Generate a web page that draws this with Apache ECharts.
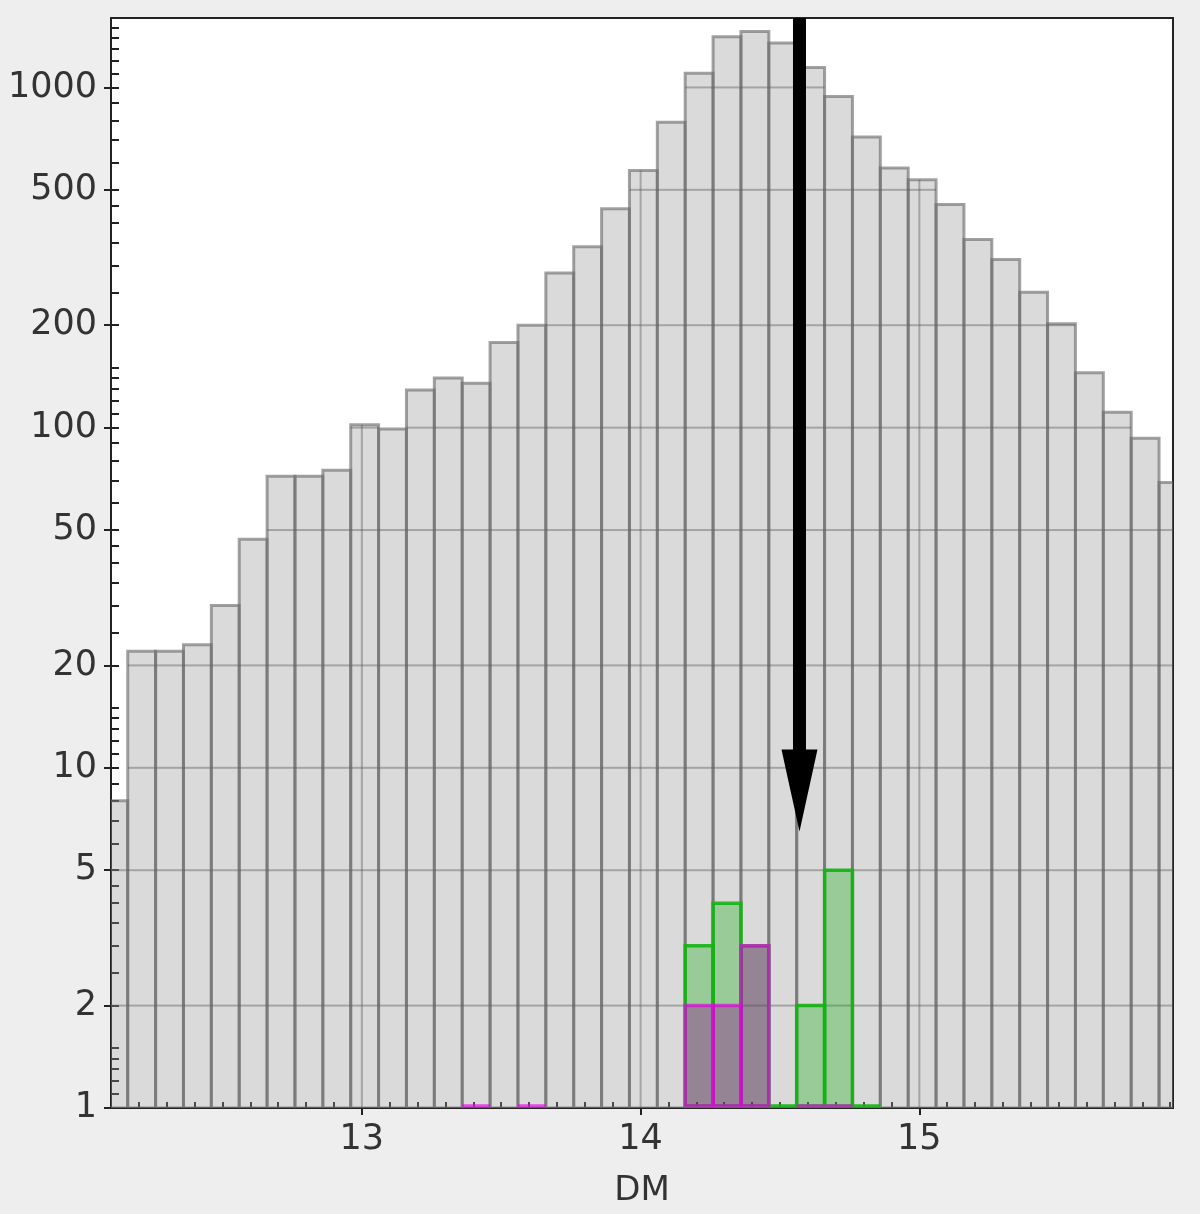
<!DOCTYPE html>
<html>
<head>
<meta charset="utf-8">
<script src="https://cdn.jsdelivr.net/npm/echarts@6/dist/echarts.min.js"></script>
<style>
html,body{margin:0;padding:0;background:#eeeeee;}
#chart{width:1200px;height:1214px;}
</style>
</head>
<body>
<div id="chart"></div>
<script>
// ---- data ----
const binStart = 12.06;
const binWidth = 0.1;
const allCounts = [8,22,22,23,30,47,72,72,75,102,99,129,140,135,178,200,285,340,440,570,790,1100,1410,1460,1350,1145,940,715,580,535,453,357,312,250,202,145,111,93,69];
const greenCounts = [0,0,0,0,0,0,0,0,0,0,0,0,0,0,0,0,0,0,0,0,0,3,4,3,1,2,5,1,0,0,0,0,0,0,0,0,0,0,0];
const magentaCounts = [0,0,0,0,0,0,0,0,0,0,0,0,0,1,0,1,0,0,0,0,0,2,2,3,0,1,1,0,0,0,0,0,0,0,0,0,0,0,0];
const xTickLabels = [13, 14, 15];
const xMinorTicks = [12.2,12.3,12.4,12.5,12.6,12.7,12.8,12.9,13.1,13.2,13.3,13.4,13.5,13.6,13.7,13.8,13.9,14.1,14.2,14.3,14.4,14.5,14.6,14.7,14.8,14.9,15.1,15.2,15.3,15.4,15.5,15.6,15.7,15.8,15.9];
const yTickLabels = [1, 2, 5, 10, 20, 50, 100, 200, 500, 1000];
const yMinorTicks = [1.1,1.2,1.3,1.4,1.5,2.5,3,3.5,4,4.5,6,7,8,9,11,12,13,14,15,25,30,35,40,45,60,70,80,90,110,120,130,140,150,250,300,350,400,450,600,700,800,900,1100,1200,1300,1400,1500];
const arrowX = 14.57;
const arrowTip = 6.5;
const xRange = [12.1, 15.91];
const yRange = [1, 1600];

function histData(counts) {
  const out = [];
  counts.forEach(function (c, i) {
    if (c > 0) out.push([binStart + i * binWidth, binStart + (i + 1) * binWidth, c]);
  });
  return out;
}

function makeHistRender(fill, stroke, lineWidth, withGrid, lift) {
  return function (params, api) {
    const x0 = api.value(0), x1 = api.value(1), c = api.value(2);
    const pTop = api.coord([x0, c]);
    const pBot = api.coord([x1, yRange[0]]);
    const bottom = pBot[1] - lift;
    const top = Math.min(pTop[1], bottom);
    const children = [{
      type: 'rect',
      shape: { x: pTop[0], y: top, width: pBot[0] - pTop[0], height: bottom - top },
      style: { fill: fill, stroke: stroke, lineWidth: lineWidth }
    }];
    if (withGrid) {
      yTickLabels.forEach(function (v) {
        if (v > yRange[0] && v < c) {
          const y = api.coord([x0, v])[1];
          children.push({ type: 'line', shape: { x1: pTop[0], y1: y, x2: pBot[0], y2: y },
            style: { stroke: 'rgba(90,90,90,0.42)', lineWidth: 2 } });
        }
      });
      xTickLabels.forEach(function (t) {
        if (t > x0 && t < x1) {
          const x = api.coord([t, yRange[0]])[0];
          children.push({ type: 'line', shape: { x1: x, y1: pTop[1], x2: x, y2: pBot[1] },
            style: { stroke: 'rgba(90,90,90,0.42)', lineWidth: 2 } });
        }
      });
    }
    return { type: 'group', children: children };
  };
}

function arrowRender(params, api) {
  const tip = api.coord([api.value(0), api.value(1)]);
  const top = params.coordSys.y;
  const headH = 82, headW = 18, shaftW = 6.5;
  return {
    type: 'group',
    children: [
      { type: 'rect', shape: { x: tip[0] - shaftW, y: top, width: shaftW * 2, height: tip[1] - headH - top + 2 },
        style: { fill: '#000' } },
      { type: 'polygon', shape: { points: [[tip[0] - headW, tip[1] - headH], [tip[0] + headW, tip[1] - headH], [tip[0], tip[1]]] },
        style: { fill: '#000' } }
    ]
  };
}

const font = 'DejaVu Sans';
const plainLabel = function (v) { return String(v); };
const chart = echarts.init(document.getElementById('chart'));
chart.setOption({
  backgroundColor: '#eeeeee',
  animation: false,
  grid: {
    left: 111, top: 18, right: 27, bottom: 106,
    show: true, backgroundColor: '#ffffff', borderColor: '#222', borderWidth: 2,
    outerBoundsMode: 'none'
  },
  xAxis: [
    {
      type: 'value', min: xRange[0], max: xRange[1], position: 'bottom',
      axisLine: { show: true, lineStyle: { color: '#222', width: 2 } },
      axisTick: { show: true, inside: true, length: 6, customValues: xMinorTicks, lineStyle: { color: '#222', width: 2 } },
      axisLabel: { show: false },
      splitLine: { show: false }
    },
    {
      type: 'value', min: xRange[0], max: xRange[1], position: 'bottom',
      axisLine: { show: false },
      axisTick: { show: true, inside: false, length: 7, customValues: xTickLabels, lineStyle: { color: '#222', width: 2 } },
      axisLabel: { show: true, customValues: xTickLabels, formatter: plainLabel, margin: 14, fontSize: 35, color: '#333', fontFamily: font },
      splitLine: { show: false },
      name: 'DM', nameLocation: 'middle', nameGap: 66,
      nameTextStyle: { fontSize: 34, color: '#333', fontFamily: font }
    }
  ],
  yAxis: [
    {
      type: 'log', logBase: 10, min: yRange[0], max: yRange[1], position: 'left',
      axisLine: { show: true, lineStyle: { color: '#222', width: 2 } },
      axisTick: { show: true, inside: true, length: 8, customValues: yMinorTicks.concat(yTickLabels), lineStyle: { color: '#222', width: 2 } },
      axisLabel: { show: false },
      splitLine: { show: false }
    },
    {
      type: 'log', logBase: 10, min: yRange[0], max: yRange[1], position: 'left',
      axisLine: { show: false },
      axisTick: { show: true, inside: false, length: 7, customValues: yTickLabels, lineStyle: { color: '#222', width: 2 } },
      axisLabel: { show: true, customValues: yTickLabels, formatter: plainLabel, margin: 14, fontSize: 35, color: '#333', fontFamily: font },
      splitLine: { show: false }
    }
  ],
  series: [
    {
      type: 'custom', name: 'all', xAxisIndex: 0, yAxisIndex: 0, clip: true,
      renderItem: makeHistRender('rgba(150,150,150,0.35)', 'rgba(105,105,105,0.62)', 3, true, 0),
      encode: { x: [0, 1], y: 2 },
      data: histData(allCounts)
    },
    {
      type: 'custom', name: 'green', xAxisIndex: 0, yAxisIndex: 0, clip: false,
      renderItem: makeHistRender('rgba(0,170,0,0.3)', 'rgba(20,180,20,0.9)', 3.5, false, 2),
      encode: { x: [0, 1], y: 2 },
      data: histData(greenCounts)
    },
    {
      type: 'custom', name: 'magenta', xAxisIndex: 0, yAxisIndex: 0, clip: false,
      renderItem: makeHistRender('rgba(140,0,140,0.35)', 'rgba(235,0,235,0.65)', 3.5, false, 2),
      encode: { x: [0, 1], y: 2 },
      data: histData(magentaCounts)
    },
    {
      type: 'custom', name: 'arrow', xAxisIndex: 0, yAxisIndex: 0, clip: true,
      renderItem: arrowRender,
      data: [[arrowX, arrowTip]]
    }
  ]
});
</script>
</body>
</html>
